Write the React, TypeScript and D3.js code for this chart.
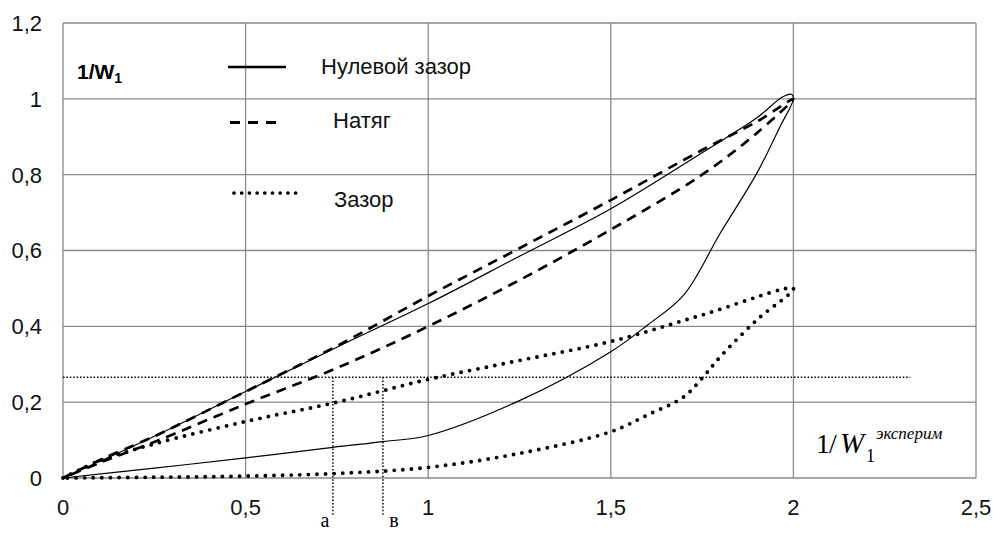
import React from "react";
import * as d3 from "d3";

const zeroGapUpper: [number, number][] = [
  [0, 0], [0.25, 0.11], [0.5, 0.228], [0.75, 0.345], [1, 0.46], [1.25, 0.585],
  [1.5, 0.71], [1.75, 0.858], [1.9, 0.95], [1.97, 1.005], [1.995, 1.012],
];
const zeroGapLower: [number, number][] = [
  [2, 1.0], [1.963, 0.926], [1.9, 0.804], [1.8, 0.646], [1.7, 0.483], [1.6, 0.403],
  [1.5, 0.333], [1.25, 0.204], [1, 0.112], [0.876, 0.096], [0.739, 0.081],
  [0.5, 0.053], [0.25, 0.026], [0, 0],
];
const interferenceUpper: [number, number][] = [
  [0, 0], [0.1, 0.047], [0.25, 0.11], [0.5, 0.228], [0.75, 0.348], [1, 0.48],
  [1.25, 0.606], [1.5, 0.733], [1.75, 0.865], [1.9, 0.94], [2, 1.0],
];
const interferenceLower: [number, number][] = [
  [2, 1.0], [1.9, 0.91], [1.75, 0.8], [1.5, 0.655], [1.25, 0.522], [1, 0.4],
  [0.75, 0.29], [0.5, 0.195], [0.25, 0.095], [0.1, 0.04], [0, 0],
];
const gapUpper: [number, number][] = [
  [0, 0], [0.1, 0.045], [0.25, 0.09], [0.5, 0.149], [0.75, 0.2], [1, 0.26],
  [1.25, 0.31], [1.5, 0.36], [1.75, 0.43], [2, 0.5],
];
const gapLower: [number, number][] = [
  [2, 0.5], [1.9, 0.417], [1.8, 0.32], [1.75, 0.263], [1.7, 0.214], [1.6, 0.166],
  [1.5, 0.122], [1.25, 0.065], [1, 0.028], [0.75, 0.012], [0.5, 0.005],
  [0.25, 0.002], [0, 0],
];

const xTicks = [0, 0.5, 1, 1.5, 2, 2.5];
const yTicks = [0, 0.2, 0.4, 0.6, 0.8, 1, 1.2];

// construction lines for points "а" and "в"
const refLevel = 0.266;
const refEndX = 2.32;
const refA = 0.739;
const refB = 0.876;
const refBottom = -0.097;

const width = 993;
const height = 533;
const margin = { top: 23, right: 17, bottom: 55, left: 63 };

const fmt = (v: number) => String(+v.toFixed(1)).replace(".", ",");

export default function App() {
  const x = d3
    .scaleLinear()
    .domain([0, 2.5])
    .range([margin.left, width - margin.right]);
  const y = d3
    .scaleLinear()
    .domain([0, 1.2])
    .range([height - margin.bottom, margin.top]);

  const line = d3
    .line<[number, number]>()
    .x((d) => x(d[0]))
    .y((d) => y(d[1]))
    .curve(d3.curveCatmullRom.alpha(0.5));

  const grid = "#8a8a8a";
  const font = "Liberation Sans, Arial, sans-serif";
  const serif = "Liberation Serif, Times New Roman, serif";

  return (
    <svg
      width={width}
      height={height}
      style={{ position: "absolute", left: 0, top: 0, background: "#fff" }}
    >
      {/* grid */}
      <g stroke={grid} strokeWidth={1.3}>
        {xTicks.map((t) => (
          <line key={"gx" + t} x1={x(t)} x2={x(t)} y1={y(0)} y2={y(1.2)} />
        ))}
        {yTicks.map((t) => (
          <line key={"gy" + t} x1={x(0)} x2={x(2.5)} y1={y(t)} y2={y(t)} />
        ))}
      </g>

      {/* tick labels */}
      <g fontFamily={font} fontSize={22} fill="#111">
        {yTicks.map((t) => (
          <text key={"ty" + t} x={42} y={y(t)} dy="0.36em" textAnchor="end">
            {fmt(t)}
          </text>
        ))}
        {xTicks.map((t) => (
          <text key={"tx" + t} x={x(t)} y={515} textAnchor="middle">
            {fmt(t)}
          </text>
        ))}
      </g>

      {/* construction lines */}
      <g stroke="#000" strokeWidth={1.5} strokeDasharray="1.5 1.9" fill="none">
        <line x1={x(0)} x2={x(refEndX)} y1={y(refLevel)} y2={y(refLevel)} />
        <line x1={x(refA)} x2={x(refA)} y1={y(refLevel)} y2={y(refBottom)} />
        <line x1={x(refB)} x2={x(refB)} y1={y(refLevel)} y2={y(refBottom)} />
      </g>

      {/* curves */}
      <g fill="none" stroke="#000">
        <path d={line([...zeroGapUpper, ...zeroGapLower]) ?? ""} strokeWidth={1.2} />
        <path
          d={line([...interferenceUpper, ...interferenceLower.slice(1)]) ?? ""}
          strokeWidth={2.7}
          strokeDasharray="10 7"
        />
        <path
          d={line([...gapUpper, ...gapLower.slice(1)]) ?? ""}
          strokeWidth={3.9}
          strokeDasharray="0 8.6"
          strokeLinecap="round"
        />
      </g>

      {/* legend */}
      <text x={77} y={79} fontFamily={font} fontSize={21} fontWeight="bold">
        1/W
        <tspan fontSize={14} dy={4}>1</tspan>
      </text>
      <g stroke="#000" fill="none">
        <line x1={228} x2={286} y1={67} y2={67} strokeWidth={2.6} />
        <line x1={230} x2={284} y1={122.5} y2={122.5} strokeWidth={2.8} strokeDasharray="10 8" />
        <line
          x1={234}
          x2={296}
          y1={193}
          y2={193}
          strokeWidth={3.7}
          strokeDasharray="0 7.7"
          strokeLinecap="round"
        />
      </g>
      <g fontFamily={font} fontSize={22} fill="#111">
        <text x={321} y={74}>Нулевой зазор</text>
        <text x={333} y={128}>Натяг</text>
        <text x={334} y={207}>Зазор</text>
      </g>

      {/* axis caption */}
      <text x={816} y={453} fontFamily={serif} fontSize={28} fill="#000">
        1
        <tspan x={829}>/</tspan>
        <tspan x={840} fontStyle="italic" fontSize={29}>W</tspan>
        <tspan x={866} y={462} fontSize={18}>1</tspan>
        <tspan x={876} y={439} fontSize={17} fontStyle="italic">эксперим</tspan>
      </text>
      <g fontFamily={serif} fontSize={20} fill="#000" textAnchor="middle">
        <text x={325} y={527}>а</text>
        <text x={394} y={527}>в</text>
      </g>
    </svg>
  );
}
